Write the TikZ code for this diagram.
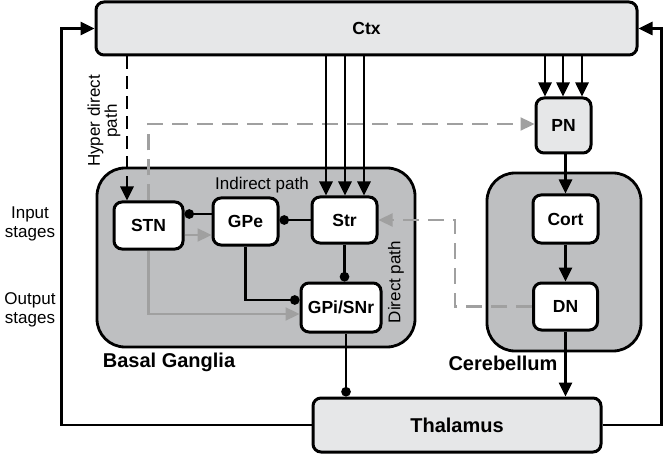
\documentclass[tikz,border=0pt]{standalone}
\usepackage{fontspec}
\setmainfont{Liberation Sans}
\usetikzlibrary{arrows.meta}

\definecolor{ltgray}{HTML}{E6E7E8}
\definecolor{bggray}{HTML}{BEBFC1}
\definecolor{midgray}{HTML}{A0A0A0}

\begin{document}
\begin{tikzpicture}[x=1pt,y=-1pt,
    box/.style={draw, line width=3pt, rounded corners=8pt, fill=white, inner sep=0pt,
        font=\fontsize{17.5}{19}\selectfont\bfseries},
    lightbox/.style={box, fill=ltgray},
    region/.style={draw, line width=2.8pt, rounded corners=28pt, fill=bggray, inner sep=0pt},
    link/.style={line width=2.6pt, -{Triangle[length=14pt,width=13pt]}},
    inhib/.style={line width=2.6pt, -{Circle[length=9.5pt]}},
    graylink/.style={link, line width=2.3pt, midgray},
    grayhint/.style={graylink, dash pattern=on 16pt off 9pt},
    lbl/.style={font=\fontsize{17}{19}\selectfont, align=center},
    regionlbl/.style={font=\fontsize{20}{22}\selectfont\bfseries}]

    % Canvas
    \fill[white] (0,0) rectangle (663,454);

    % Draw the two regions
    \node[region, minimum width=318pt, minimum height=179pt] (bg) at (256,257.5) {};
    \node[region, minimum width=154pt, minimum height=178pt] (cb) at (564,262) {};
    \node[regionlbl] (bglbl) at (169,362) {Basal Ganglia};
    \node[regionlbl] (cblbl) at (503,363) {Cerebellum};

    % Draw the boxes
    \node[lightbox, minimum width=541pt, minimum height=53pt] (ctx) at (366.5,28.5) {Ctx};
    \node[lightbox, minimum width=288pt, minimum height=54pt] (thal) at (457,425) {\fontsize{20}{22}\selectfont Thalamus};
    \node[lightbox, minimum width=55pt, minimum height=55pt] (pn) at (563.5,125.5) {PN};
    \node[box, minimum width=69pt, minimum height=47pt] (stn) at (148.5,225.5) {STN};
    \node[box, minimum width=65pt, minimum height=47pt] (gpe) at (245.5,221.5) {GPe};
    \node[box, minimum width=65pt, minimum height=46pt] (str) at (344.5,220) {Str};
    \node[box, minimum width=80pt, minimum height=49pt] (gpi) at (341,307.5) {GPi/SNr};
    \node[box, minimum width=65pt, minimum height=48pt] (cort) at (565.5,219) {Cort};
    \node[box, minimum width=64pt, minimum height=47pt] (dn) at (565.5,306.5) {DN};

    % Gray pathways
    \draw[grayhint] (stn.north) |- (pn.west |- 0,124);
    \draw[grayhint] (dn.west) -- (dn.west -| 455,0) |- (str.east);
    \draw[graylink] (stn.east |- 0,235) -- (gpe.west |- 0,235);
    \draw[graylink] (stn.south) |- (gpi.west |- 0,314);

    % Cortical inputs
    \foreach \x in {326,345,364}
        \draw[link] (ctx.south -| \x,0) -- (str.north -| \x,0);
    \foreach \x in {545,563,582}
        \draw[link] (ctx.south -| \x,0) -- (pn.north -| \x,0);
    \draw[link, dash pattern=on 13pt off 7pt] (ctx.south -| 127,0) -- (stn.north -| 127,0);

    % Basal ganglia loop
    \draw[inhib] (gpe.west |- 0,214) -- (stn.east |- 0,214);
    \draw[inhib] (str.west) -- (gpe.east |- str.west);
    \draw[inhib] (str.south) -- (gpi.north -| str.south);
    \draw[inhib] (gpe.south) |- (gpi.west |- 0,300);
    \draw[inhib] (gpi.south -| 346,0) -- (thal.north -| 346,0);

    % Cerebellar loop
    \draw[link] (pn.south -| cort.north) -- (cort.north);
    \draw[link] (cort.south) -- (dn.north);
    \draw[link] (dn.south) -- (thal.north -| dn.south);

    % Back to cortex
    \draw[link] (thal.west) -- ++(-250,0) |- (ctx.west);
    \draw[link] (thal.east) -- ++(59,0) |- (ctx.east);

    % Path labels
    \node[lbl] (indir) at (262,185) {Indirect path};
    \node[lbl, rotate=90] (dir) at (396,282) {Direct path};
    \node[lbl, rotate=90, font=\fontsize{17}{17}\selectfont] (hyper) at (104,121) {Hyper direct\\path};
    \node[lbl] (instage) at (30,224) {Input\\stages};
    \node[lbl] (outstage) at (30,310) {Output\\stages};
\end{tikzpicture}
\end{document}
